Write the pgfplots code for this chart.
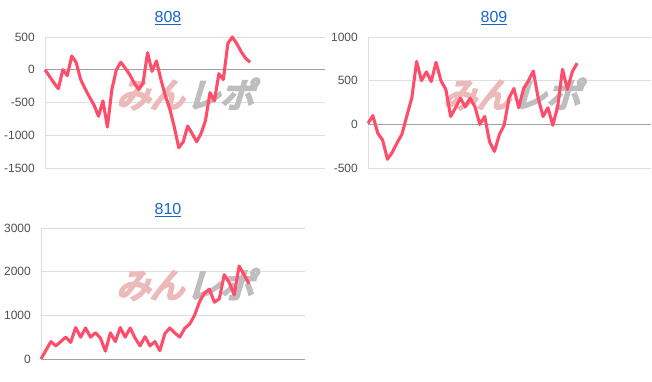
\documentclass[border=0pt]{standalone}
\usepackage{pgfplots}
\pgfplotsset{compat=1.18}
\usepackage{fontspec}
\setmainfont{Liberation Sans}
\newfontfamily\cjk[FakeBold=8,FakeSlant=0.3]{Noto Sans CJK JP}
\definecolor{linec}{RGB}{255,78,108}
\definecolor{gridc}{RGB}{222,222,222}
\definecolor{basec}{RGB}{160,160,160}
\definecolor{tickc}{RGB}{80,80,80}
\definecolor{titlec}{RGB}{22,102,204}
\definecolor{wmred}{RGB}{236,186,186}
\definecolor{wmgray}{RGB}{190,190,190}
\pgfplotsset{
  mini/.style={
    scale only axis, anchor=south west,
    xtick=\empty, axis line style={draw=none},
    ymajorgrids, grid style={color=gridc, line width=0.8pt},
    major tick length=0pt,
    yticklabel style={font=\fontsize{12}{14}\selectfont, color=tickc, anchor=east, inner sep=0pt, xshift=-10pt},
    /pgf/number format/assume math mode=true,
    /pgf/number format/set thousands separator={},
    clip=false,
  },
}
\newcommand{\watermark}[1]{%
  \node[inner sep=0pt] at (#1) {\cjk\fontsize{34}{36}\selectfont\textcolor{wmred}{みん}\hspace{2pt}\textcolor{wmgray}{レポ}};}
\begin{document}
\begin{tikzpicture}[x=1pt,y=1pt]
\path[use as bounding box] (0,0) rectangle (652,382);
% ---- 808
\begin{axis}[mini, at={(45pt,214pt)}, width=280pt, height=131pt,
  xmin=0, xmax=62.8, ymin=-1500, ymax=500, ytick={-1500,-1000,-500,0,500}]
\draw[gridc, line width=0.8pt] (rel axis cs:0,0) -- (rel axis cs:0,1);
\draw[basec, line width=0.8pt] (axis cs:0,0) -- (axis cs:62.8,0);
\watermark{rel axis cs:0.5,0.565}
\addplot[linec, line width=3.1pt, line join=round] table {
x y
0 0
1 -100
2 -200
3 -290
4 0
5 -90
6 210
7 110
8 -150
9 -290
10 -420
11 -540
12 -710
13 -475
14 -875
15 -300
16 0
17 115
18 25
19 -75
20 -200
21 -300
22 -200
23 260
24 -25
25 135
26 -150
27 -400
28 -600
29 -875
30 -1190
31 -1100
32 -860
33 -975
34 -1100
35 -975
36 -775
37 -350
38 -475
39 -60
40 -150
41 400
42 500
43 400
44 275
45 175
46 115
};
\end{axis}
% ---- 809
\begin{axis}[mini, at={(368pt,214pt)}, width=283pt, height=131pt,
  xmin=0, xmax=58.2, ymin=-500, ymax=1000, ytick={-500,0,500,1000}]
\draw[gridc, line width=0.8pt] (rel axis cs:0,0) -- (rel axis cs:0,1);
\draw[basec, line width=0.8pt] (axis cs:0,0) -- (axis cs:58.2,0);
\watermark{rel axis cs:0.507,0.565}
\addplot[linec, line width=3.1pt, line join=round] table {
x y
0 10
1 100
2 -100
3 -180
4 -400
5 -320
6 -210
7 -110
8 100
9 300
10 720
11 500
12 600
13 490
14 710
15 500
16 400
17 90
18 190
19 300
20 200
21 300
22 200
23 0
24 90
25 -200
26 -310
27 -120
28 -10
29 300
30 410
31 190
32 410
33 500
34 610
35 300
36 90
37 190
38 -10
39 200
40 630
41 400
42 600
43 700
};
\end{axis}
% ---- 810
\begin{axis}[mini, at={(41pt,23pt)}, width=264pt, height=131pt,
  xmin=0, xmax=53.3, ymin=0, ymax=3000, ytick={0,1000,2000,3000}]
\draw[gridc, line width=0.8pt] (rel axis cs:0,0) -- (rel axis cs:0,1);
\watermark{rel axis cs:0.545,0.57}
\addplot[linec, line width=3.1pt, line join=round] table {
x y
0 0
1 200
2 400
3 300
4 400
5 500
6 380
7 720
8 500
9 710
10 500
11 600
12 480
13 180
14 600
15 400
16 720
17 500
18 710
19 480
20 300
21 510
22 300
23 400
24 190
25 580
26 710
27 600
28 500
29 700
30 800
31 1000
32 1310
33 1510
34 1600
35 1300
36 1380
37 1930
38 1750
39 1470
40 2130
41 1930
42 1720
};
\draw[basec, line width=0.8pt] (axis cs:0,0) -- (axis cs:53.3,0);
\end{axis}
% titles
\node[inner sep=0pt, text=titlec, font=\fontsize{16}{18}\selectfont] at (168,364) {\underline{808}};
\node[inner sep=0pt, text=titlec, font=\fontsize{16}{18}\selectfont] at (494,364) {\underline{809}};
\node[inner sep=0pt, text=titlec, font=\fontsize{16}{18}\selectfont] at (168,172) {\underline{810}};
\end{tikzpicture}
\end{document}
